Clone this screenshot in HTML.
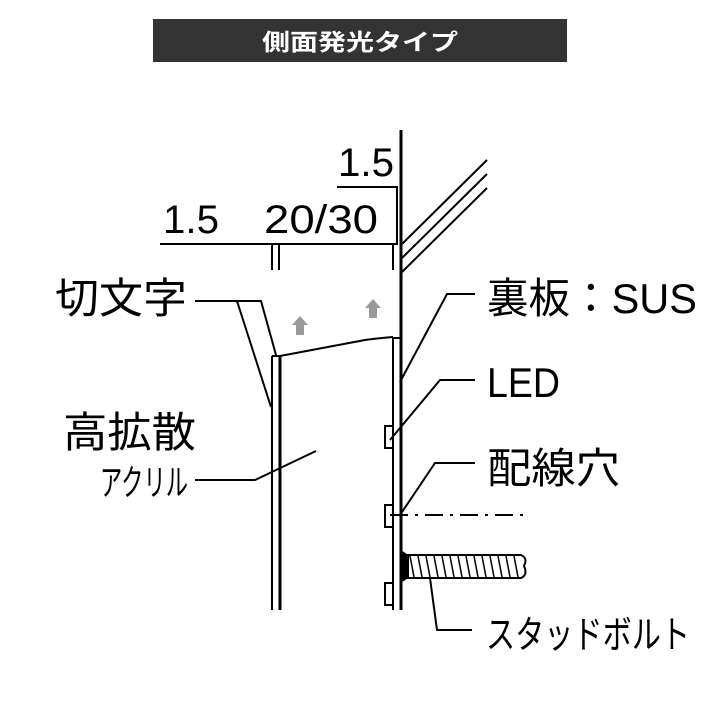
<!DOCTYPE html>
<html><head><meta charset="utf-8"><style>
html,body{margin:0;padding:0;background:#fff;}
svg{display:block}
text{font-family:"Liberation Sans","Noto Sans CJK JP",sans-serif;fill:#000}
</style></head><body>
<svg width="720" height="720" viewBox="0 0 720 720" xmlns="http://www.w3.org/2000/svg">
<rect x="153" y="19" width="414" height="43" fill="#333"/>
<text x="262" y="50" font-size="23" font-weight="bold" style="fill:#fff" font-family="Noto Sans CJK JP" textLength="196" lengthAdjust="spacingAndGlyphs">側面発光タイプ</text>

<g stroke="#000" fill="none" stroke-width="2">
<line x1="160" y1="244" x2="398" y2="244"/>
<line x1="272" y1="244" x2="272" y2="270"/>
<line x1="279" y1="244" x2="279" y2="270"/>
<line x1="393" y1="244" x2="393" y2="270"/>
<polyline points="337,187 397,187 397,244"/>
<line x1="401" y1="130" x2="401" y2="610" stroke-width="3"/>
<line x1="402" y1="244" x2="487" y2="160"/>
<line x1="402" y1="258" x2="487" y2="174"/>
<line x1="402" y1="272" x2="487" y2="188"/>
<line x1="393" y1="337" x2="393" y2="610"/>
<line x1="393" y1="338" x2="401" y2="338"/>
<rect x="385" y="426" width="8" height="22"/>
<rect x="385" y="505" width="8" height="22"/>
<rect x="385" y="583" width="8" height="22"/>
<line x1="272" y1="356" x2="272" y2="610"/>
<line x1="280" y1="356" x2="280" y2="610" stroke-width="3"/>
<line x1="272" y1="356" x2="280" y2="356"/>
<path d="M280,356 L365,340 Q380,338 393,337"/>
<polyline points="195,301 261,301 276,355"/>
<line x1="237" y1="301" x2="271" y2="407"/>
<polyline points="195,480 255,480 316,451"/>
<polyline points="475,294 447,294 400,382"/>
<polyline points="475,380 440,380 390,440"/>
<polyline points="475,463 435,463 400,515"/>
<line x1="390" y1="515" x2="527" y2="515" stroke-dasharray="18,7,3,7"/>
<polyline points="430,578 437,630 472,630"/>
<path d="M406,555 L521,555 Q528,558 524,566 Q528,575 521,578 L406,578 Z" stroke-width="2"/>
<path d="M402,552 L408,556 L408,577 L402,581 Z" fill="#000"/>
<g stroke-width="1.5">
<line x1="410" y1="556" x2="414" y2="577"/><line x1="418" y1="556" x2="422" y2="577"/>
<line x1="426" y1="556" x2="430" y2="577"/><line x1="434" y1="556" x2="438" y2="577"/>
<line x1="442" y1="556" x2="446" y2="577"/><line x1="450" y1="556" x2="454" y2="577"/>
<line x1="458" y1="556" x2="462" y2="577"/><line x1="466" y1="556" x2="470" y2="577"/>
<line x1="474" y1="556" x2="478" y2="577"/><line x1="482" y1="556" x2="486" y2="577"/>
<line x1="490" y1="556" x2="494" y2="577"/><line x1="498" y1="556" x2="502" y2="577"/>
<line x1="506" y1="556" x2="510" y2="577"/><line x1="514" y1="556" x2="518" y2="577"/>
</g>
</g>
<path d="M300,316 L308,325 L304,325 L304,335 L296,335 L296,325 L292,325 Z" fill="#999"/>
<path d="M373,299 L381,308 L377,308 L377,318 L369,318 L369,308 L365,308 Z" fill="#999"/>

<text x="163" y="233" font-size="40" textLength="56" lengthAdjust="spacingAndGlyphs">1.5</text>
<text x="264" y="233" font-size="40" textLength="114" lengthAdjust="spacingAndGlyphs">20/30</text>
<text x="338" y="176" font-size="40" textLength="56" lengthAdjust="spacingAndGlyphs">1.5</text>
<text x="55" y="313" font-size="42" textLength="132" lengthAdjust="spacingAndGlyphs">切文字</text>
<text x="63" y="447" font-size="42" textLength="133" lengthAdjust="spacingAndGlyphs">高拡散</text>
<text x="100" y="495" font-size="36" textLength="88" lengthAdjust="spacingAndGlyphs">アクリル</text>
<text x="487" y="313" font-size="42" textLength="210" lengthAdjust="spacingAndGlyphs">裏板：SUS</text>
<text x="487" y="397" font-size="42" textLength="73" lengthAdjust="spacingAndGlyphs">LED</text>
<text x="487" y="483" font-size="42" textLength="133" lengthAdjust="spacingAndGlyphs">配線穴</text>
<text x="486" y="648" font-size="38" textLength="204" lengthAdjust="spacingAndGlyphs">スタッドボルト</text>
</svg>
</body></html>
